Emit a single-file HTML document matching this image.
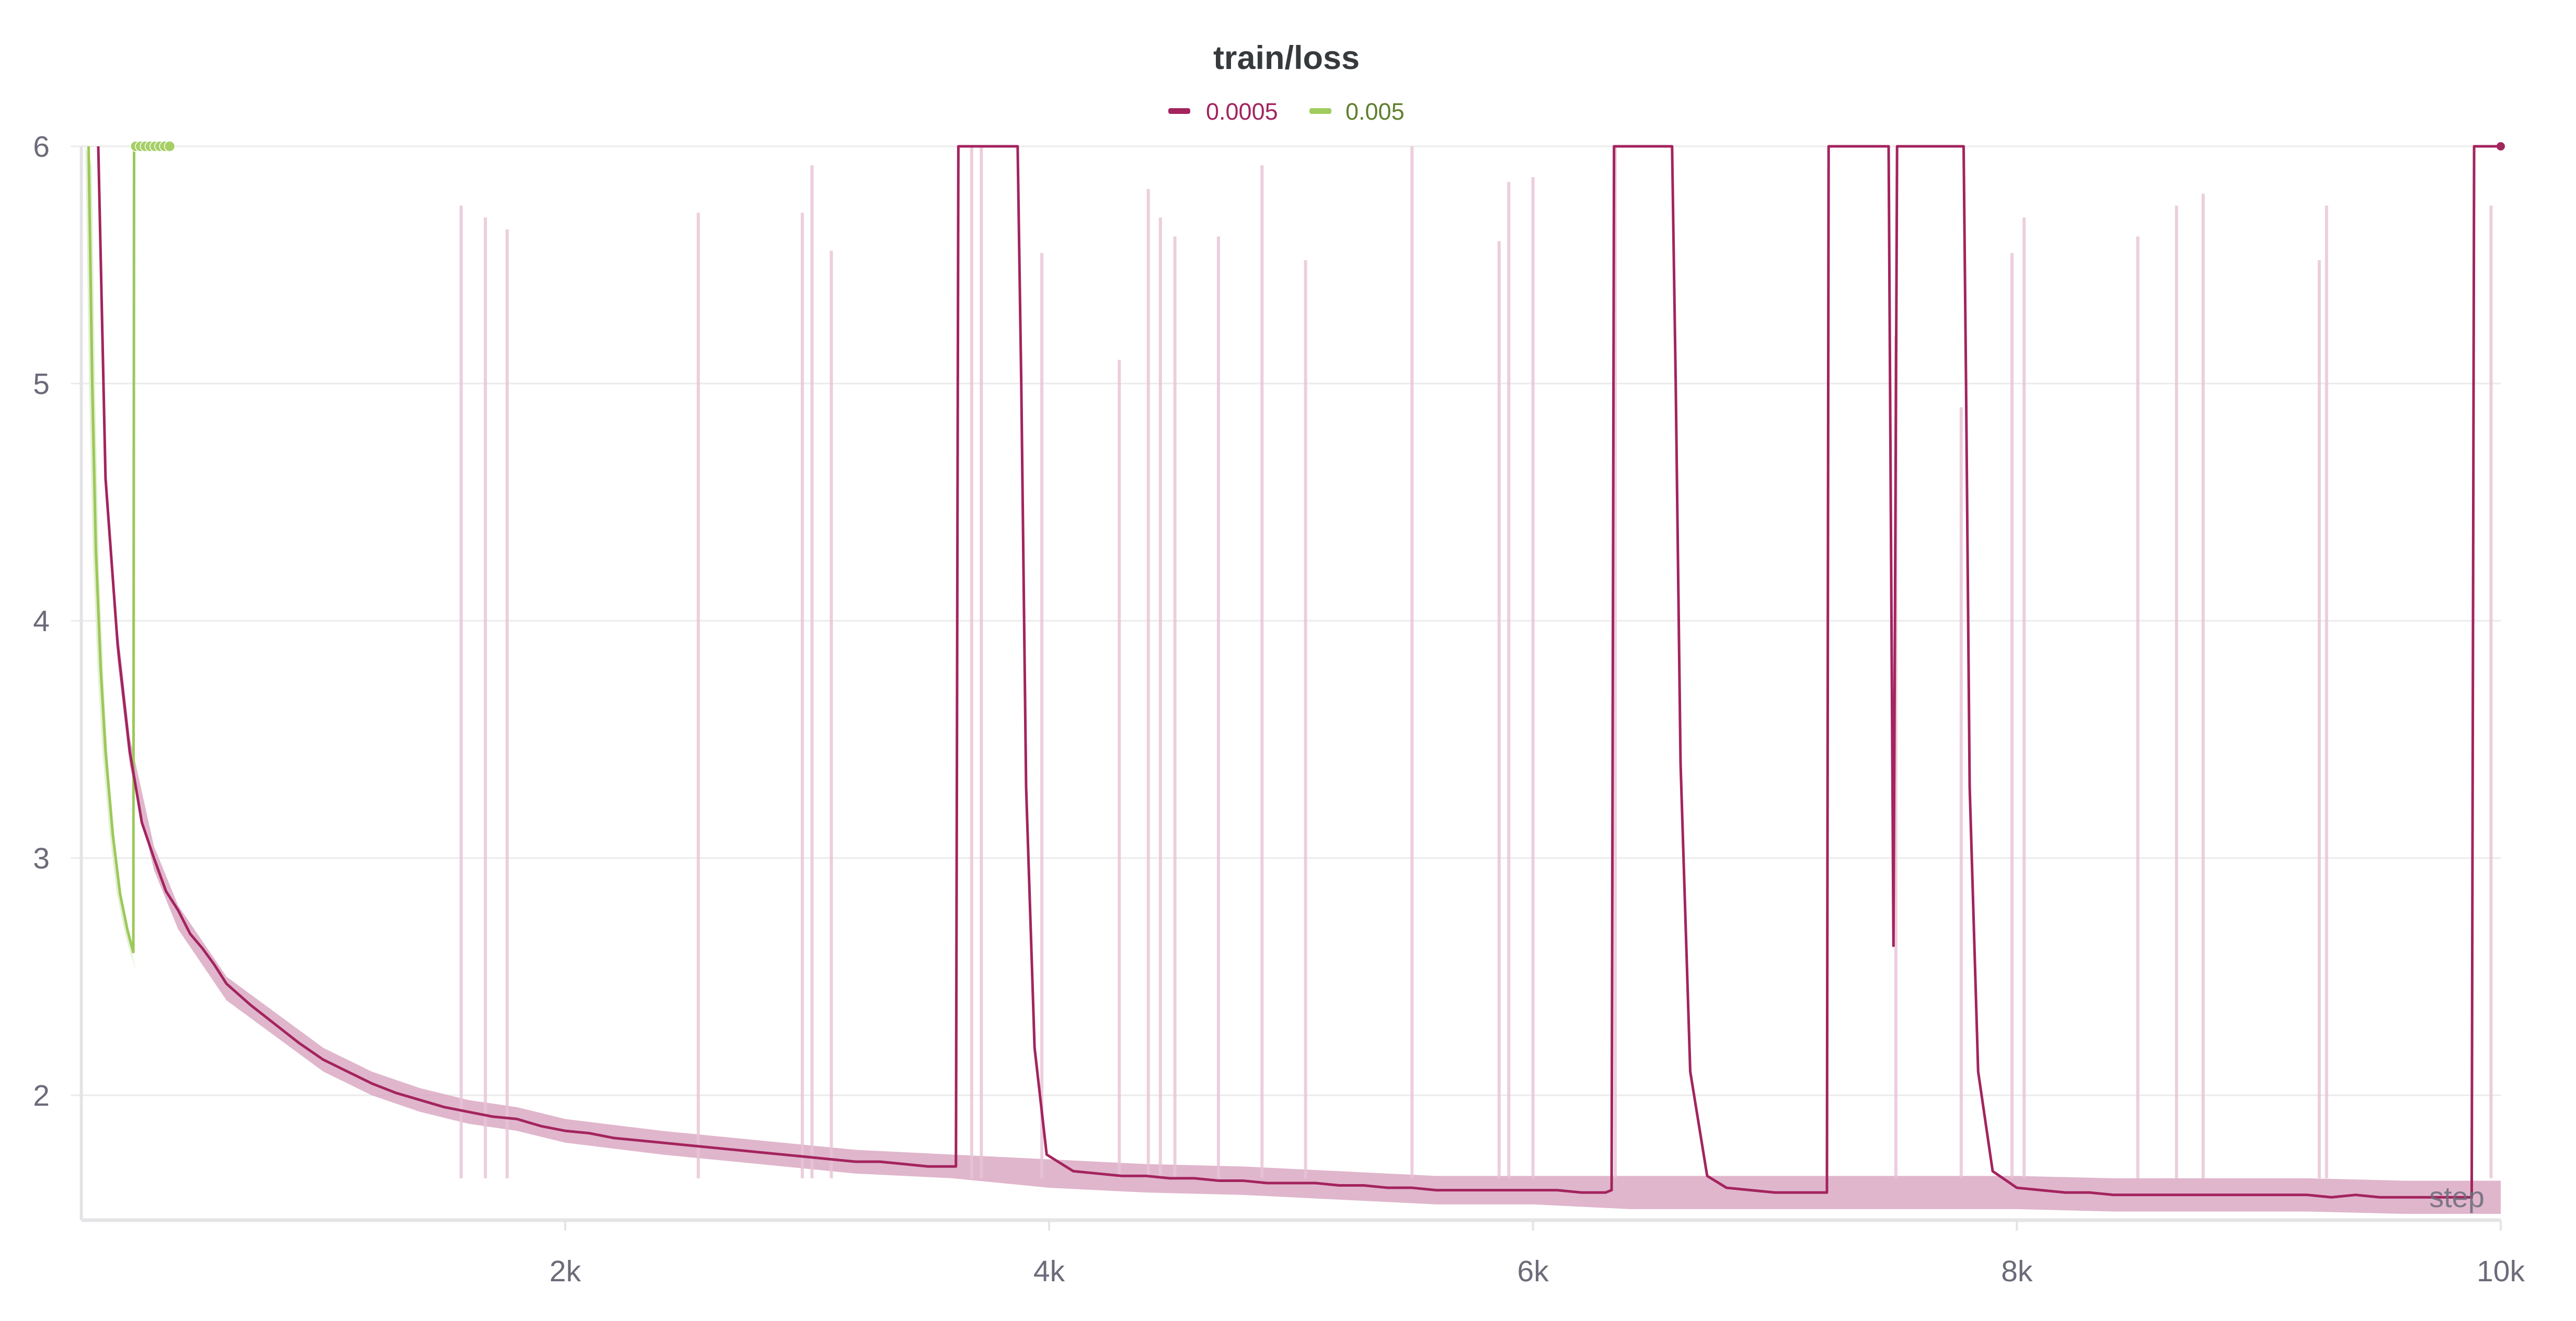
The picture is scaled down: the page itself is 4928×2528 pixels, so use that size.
<!DOCTYPE html>
<html><head><meta charset="utf-8"><style>
html,body{margin:0;padding:0;background:#fff;}
svg{display:block;font-family:"Liberation Sans",sans-serif;}
</style></head><body>
<svg id="chart" width="4928" height="2528" viewBox="0 0 4928 2528" xmlns="http://www.w3.org/2000/svg">
<text x="2461" y="132" text-anchor="middle" font-size="63" font-weight="bold" fill="#363a3d">train/loss</text>
<g>
 <g>
  <rect x="2235" y="207" width="42" height="11" rx="4" fill="#a3245e"/>
  <text x="2307" y="229" font-size="45" fill="#a3245e">0.0005</text>
 </g>
 <g>
  <rect x="2505" y="207" width="42" height="11" rx="4" fill="#a0cb5e"/>
  <text x="2574" y="229" font-size="45" fill="#5f7f2e">0.005</text>
 </g>
</g>
<g id="grid"></g>
<g id="yticks"></g>
<g id="xticks"></g>
<g id="plot"></g>
<text x="4700" y="2310" text-anchor="middle" font-size="56" fill="#6b6b7a" opacity="0.85">step</text>
</svg>
<script>
const yTicks=[2,3,4,5,6];
const xTicks=[2000,4000,6000,8000,10000];
const xTickLabels=["2k","4k","6k","8k","10k"];
// smoothed line, lr=0.0005
const redSteps=[70,100,150,200,250,300,350,400,450,500,550,600,700,800,900,1000,1100,1200,1300,1400,1500,1600,1700,1800,1900,2000,2100,2200,2300,2400,2500,2600,2700,2800,2900,3000,3100,3200,3300,3400,3500,3600,3615,3625,3870,3885,3905,3940,3990,4100,4200,4300,4400,4500,4600,4700,4800,4900,5000,5100,5200,5300,5400,5500,5600,5700,5800,5900,6000,6100,6200,6300,6325,6335,6575,6590,6610,6650,6720,6800,6900,7000,7100,7200,7215,7222,7470,7490,7505,7515,7780,7790,7805,7840,7900,8000,8100,8200,8300,8400,8500,8600,8700,8800,8900,9000,9100,9200,9300,9400,9500,9600,9700,9800,9880,9890,10000];
const redVals=[6,4.6,3.9,3.45,3.15,3.0,2.86,2.78,2.68,2.62,2.55,2.47,2.38,2.3,2.22,2.15,2.1,2.05,2.01,1.98,1.95,1.93,1.91,1.9,1.87,1.85,1.84,1.82,1.81,1.8,1.79,1.78,1.77,1.76,1.75,1.74,1.73,1.72,1.72,1.71,1.7,1.7,1.7,6,6,5.0,3.3,2.2,1.75,1.68,1.67,1.66,1.66,1.65,1.65,1.64,1.64,1.63,1.63,1.63,1.62,1.62,1.61,1.61,1.6,1.6,1.6,1.6,1.6,1.6,1.59,1.59,1.6,6,6,5.0,3.4,2.1,1.66,1.61,1.6,1.59,1.59,1.59,1.59,6,6,2.63,6,6,6,5.0,3.3,2.1,1.68,1.61,1.6,1.59,1.59,1.58,1.58,1.58,1.58,1.58,1.58,1.58,1.58,1.58,1.57,1.58,1.57,1.57,1.57,1.57,1.57,6,6];
// raw band (min/max envelope center and half-width)
const bandSteps=[70,100,150,200,300,400,500,600,800,1000,1200,1400,1600,1800,2000,2400,2800,3200,3600,4000,4400,4800,5200,5600,6000,6400,6800,7200,7600,8000,8400,8800,9200,9600,10000];
const bandMid=[6,4.6,3.9,3.45,3.0,2.75,2.6,2.45,2.3,2.15,2.05,1.98,1.93,1.9,1.85,1.8,1.76,1.72,1.7,1.67,1.65,1.64,1.62,1.6,1.6,1.59,1.59,1.59,1.59,1.59,1.58,1.58,1.58,1.57,1.57];
const bandHalf=[0.08,0.08,0.07,0.06,0.05,0.05,0.05,0.05,0.05,0.05,0.05,0.05,0.05,0.05,0.05,0.05,0.05,0.05,0.05,0.06,0.06,0.06,0.06,0.06,0.06,0.07,0.07,0.07,0.07,0.07,0.07,0.07,0.07,0.07,0.07];
// raw spikes
const spikeSteps=[1570,1670,1760,2550,2980,3020,3100,3680,3720,3970,4290,4410,4460,4520,4700,4880,5060,5500,5860,5900,6000,6340,7500,7770,7980,8030,8500,8660,8770,9250,9280,9960];
const spikeVals=[5.75,5.7,5.65,5.72,5.72,5.92,5.56,6,6,5.55,5.1,5.82,5.7,5.62,5.62,5.92,5.52,6,5.6,5.85,5.87,6,5.2,4.9,5.55,5.7,5.62,5.75,5.8,5.52,5.75,5.75];
// lr=0.005
const greenSteps=[30,45,60,80,100,130,160,190,215,218,225,260,300,340,370];
const greenVals=[6,5.0,4.3,3.8,3.45,3.1,2.85,2.7,2.6,6,6,6,6,6,6];
const greenMarkerSteps=[225,245,265,285,305,325,345,365];

const L=155.6,R=4784,T=280,B=2335;
const X=s=>L+s*(R-L)/10000;
const Y=v=>T+(6-v)*454;
const NS="http://www.w3.org/2000/svg";
function mk(tag,attrs,parent){const e=document.createElementNS(NS,tag);for(const k in attrs)e.setAttribute(k,attrs[k]);parent.appendChild(e);return e;}
const grid=document.getElementById('grid'),yt=document.getElementById('yticks'),xt=document.getElementById('xticks'),plot=document.getElementById('plot');
yTicks.forEach(v=>{
 const g=mk('line',{x1:L-20,x2:R,y1:Y(v),y2:Y(v),stroke:'#ebebeb','stroke-width':3},grid);
 
 
 const t=mk('text',{x:95,y:Y(v)+20,'text-anchor':'end','font-size':57,fill:'#6b6b7a'},yt);
 t.textContent=v;
 
 
});
const ax=mk('line',{x1:L,x2:L,y1:T,y2:B,stroke:'#e4e4e7','stroke-width':6},grid);


const bx=mk('line',{x1:L,x2:R,y1:B,y2:B,stroke:'#e4e4e7','stroke-width':7},grid);


xTicks.forEach((s,i)=>{
 const tk=mk('line',{x1:X(s),x2:X(s),y1:B,y2:B+20,stroke:'#e4e4e7','stroke-width':4},xt);
 
 
 const t=mk('text',{x:X(s),y:2452,'text-anchor':'middle','font-size':57,fill:'#6b6b7a'},xt);
 t.textContent=xTickLabels[i];
 
 
});
// band
let up=bandSteps.map((s,i)=>X(s)+','+Y(Math.min(6,bandMid[i]+bandHalf[i]))).join(' ');
let dn=bandSteps.map((s,i)=>X(s)+','+Y(bandMid[i]-bandHalf[i])).reverse().join(' ');
const band=mk('polygon',{points:up+' '+dn,fill:'#dba9c3',opacity:0.85},plot);


// spikes
spikeSteps.forEach((s,i)=>{
 const b=mk('line',{x1:X(s),x2:X(s),y1:Y(1.65),y2:Y(spikeVals[i]),stroke:'#e8c3d5','stroke-width':6,opacity:0.8},plot);
 
 
});
// green band
let gup=greenSteps.slice(0,9).map((s,i)=>(X(s)-6)+','+Y(greenVals[i])).join(' ');
let gdn=greenSteps.slice(0,9).map((s,i)=>(X(s)+6)+','+Y(greenVals[i]-0.08)).reverse().join(' ');
const gb=mk('polygon',{points:gup+' '+gdn,fill:'#e3f0cf'},plot);


// green line
const gl=mk('polyline',{points:greenSteps.map((s,i)=>X(s)+','+Y(greenVals[i])).join(' '),fill:'none',stroke:'#9bc85a','stroke-width':5},plot);


greenMarkerSteps.forEach(s=>{
 const c=mk('circle',{cx:X(s),cy:Y(6),r:10,fill:'#a6cf68',stroke:'#fff','stroke-width':1.5},plot);
 
 
});
// red line
const rl=mk('polyline',{points:redSteps.map((s,i)=>X(s)+','+Y(redVals[i])).join(' '),fill:'none',stroke:'#a3245e','stroke-width':5,'stroke-linejoin':'round'},plot);


const last=redSteps.length-1;
const d=mk('circle',{cx:X(redSteps[last]),cy:Y(redVals[last]),r:8,fill:'#a3245e'},plot);


</script>
</body></html>
